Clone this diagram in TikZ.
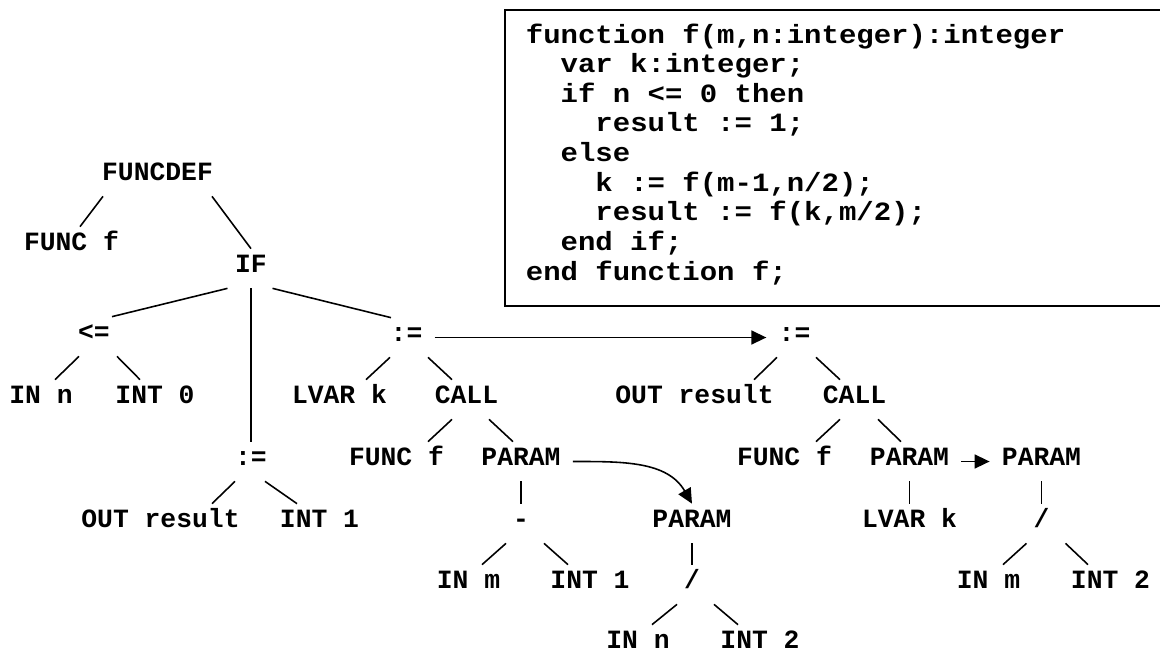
\documentclass[tikz,border=0pt]{standalone}
\usepackage{fontspec}
\usetikzlibrary{arrows.meta}
\setmonofont{Liberation Mono}
\newfontfamily\codefont[FakeStretch=1.1]{Liberation Mono}
\frenchspacing

\begin{document}
\begin{tikzpicture}[>={Triangle[length=3mm,width=2.8mm]}]
    \tikzstyle{lbl}=[font=\ttfamily\bfseries\fontsize{15}{18}\selectfont,anchor=base,text height=0.3cm,text depth=0.16cm,inner xsep=0.24cm,inner ysep=0.16cm]
    \tikzstyle{low}=[lbl,text height=0.42cm,text depth=0.04cm,inner ysep=0.04cm]
    \tikzstyle{edge}=[line width=0.9pt]
    \tikzstyle{link}=[edge,->]

\useasboundingbox (0,0) rectangle (23.2,-13.04);

% source program
\draw[line width=1.2pt] (23.2,-0.2) -- (10.1,-0.2) -- (10.1,-6.12) -- (23.2,-6.12);
\node[font=\codefont\bfseries\fontsize{15}{16.85}\selectfont,align=left,anchor=base west,inner sep=0pt] (code) at (10.51,-5.60)
  {function f(m,n:integer):integer\\
   ~~var k:integer;\\
   ~~if n <= 0 then\\
   ~~~~result := 1;\\
   ~~else\\
   ~~~~k := f(m-1,n/2);\\
   ~~~~result := f(k,m/2);\\
   ~~end if;\\
   end function f;};

% tree
\node[lbl] (fd) at (3.15,-3.60) {FUNCDEF};
\node[lbl] (ff1) at (1.43,-5.00) {FUNC f};
\node[lbl] (ifn) at (5.02,-5.44) {IF};
\node[lbl] (le) at (1.88,-6.80) {<=};
\node[lbl] (in1) at (0.82,-8.06) {IN n};
\node[lbl] (i0) at (3.10,-8.06) {INT 0};
\node[lbl] (as1) at (5.02,-9.30) {:=};
\node[lbl] (or1) at (3.21,-10.54) {OUT result};
\node[lbl] (i1) at (6.39,-10.54) {INT 1};
\node[lbl] (as2) at (8.13,-6.82) {:=};
\node[lbl] (lk1) at (6.79,-8.06) {LVAR k};
\node[lbl] (call1) at (9.33,-8.06) {CALL};
\node[lbl] (ff2) at (7.93,-9.30) {FUNC f};
\node[lbl] (par1) at (10.42,-9.30) {PARAM};
\node[lbl] (minus) at (10.42,-10.54) {-};
\node[lbl] (im1) at (9.37,-11.76) {IN m};
\node[lbl] (i1b) at (11.80,-11.76) {INT 1};
\node[lbl] (par2) at (13.84,-10.54) {PARAM};
\node[lbl] (div1) at (13.84,-11.76) {/};
\node[low] (in2) at (12.76,-12.96) {IN n};
\node[low] (i2) at (15.20,-12.96) {INT 2};
\node[lbl] (as3) at (15.89,-6.82) {:=};
\node[lbl] (or2) at (13.89,-8.06) {OUT result};
\node[lbl] (call2) at (17.09,-8.06) {CALL};
\node[lbl] (ff3) at (15.69,-9.30) {FUNC f};
\node[lbl] (par3) at (18.19,-9.30) {PARAM};
\node[lbl] (lk2) at (18.19,-10.54) {LVAR k};
\node[lbl] (par4) at (20.83,-9.30) {PARAM};
\node[lbl] (div2) at (20.83,-10.54) {/};
\node[lbl] (im2) at (19.77,-11.76) {IN m};
\node[lbl] (i2b) at (22.21,-11.76) {INT 2};

\foreach \p/\c/\s/\e in {fd/ff1/-1.09/0.17, fd/ifn/1.09/0, ifn/le/-0.47/0.36, ifn/as1/0/0,
  ifn/as2/0.43/-0.31, le/in1/-0.30/0.28, le/i0/0.46/-0.30, as2/lk1/-0.33/0.53,
  as2/call1/0.43/-0.29, as1/or1/-0.32/1.03, as1/i1/0.28/-0.45, call1/ff2/-0.29/0.63,
  call1/par1/0.45/-0.16, par1/minus/0/0, minus/im1/-0.30/0.27, minus/i1b/0.46/-0.44,
  par2/div1/0/0, div1/in2/-0.30/0.28, div1/i2/0.44/-0.44, as3/or2/-0.35/1.19,
  as3/call2/0.43/-0.29, call2/ff3/-0.29/0.63, call2/par3/0.47/-0.17, par3/lk2/0/0,
  par4/div2/0/0, div2/im2/-0.30/0.29, div2/i2b/0.48/-0.45}{
\draw[edge] ([xshift=\s cm]\p.south) -- ([xshift=\e cm]\c.north);
};

%\draw[link] (as2) -- (as3);
\draw[link] (as2.east) -- (as3.west);
\draw[link] (par1.east) to[out=0,in=120] (par2.north);
\draw[link] (par3.east) -- (par4.west);
\end{tikzpicture}
\end{document}
